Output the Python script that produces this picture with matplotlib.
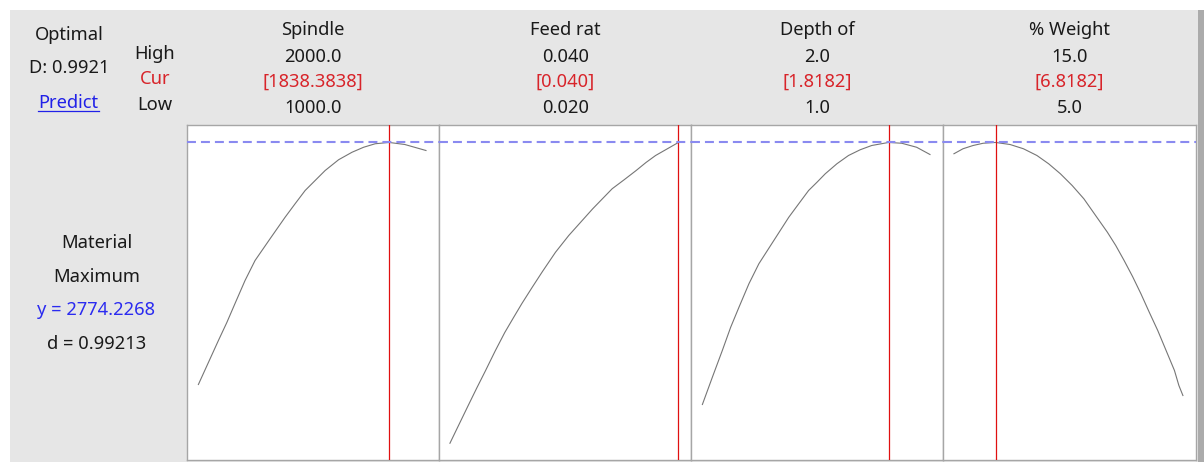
import matplotlib
matplotlib.use("Agg")
import matplotlib.pyplot as plt
from matplotlib.patches import Rectangle
from matplotlib.lines import Line2D

plt.rcParams['font.family'] = ['Noto Sans', 'DejaVu Sans']

# ---------------- data ----------------
factor_names = ["Spindle", "Feed rat", "Depth of", "% Weight"]
factor_high = [2000.0, 0.040, 2.0, 15.0]
factor_low = [1000.0, 0.020, 1.0, 5.0]
factor_cur = [1838.3838, 0.040, 1.8182, 6.8182]
high_labels = ["2000.0", "0.040", "2.0", "15.0"]
low_labels = ["1000.0", "0.020", "1.0", "5.0"]
cur_labels = ["[1838.3838]", "[0.040]", "[1.8182]", "[6.8182]"]

spindle_x = [1000, 1044, 1088, 1125, 1161, 1205, 1249, 1315, 1381, 1425, 1469, 1513,
             1557, 1616, 1675, 1726, 1777, 1838.3838, 1907, 2000]
spindle_y = [1806, 1894, 1982, 2054, 2130, 2222, 2302, 2389, 2475, 2529, 2582, 2622,
             2662, 2705, 2735, 2755, 2769, 2774.2, 2766, 2742]

feed_x = [0.0200, 0.02073, 0.0216, 0.02235, 0.0231, 0.02396, 0.0248, 0.02557, 0.0263,
          0.02719, 0.0281, 0.02924, 0.0304, 0.03144, 0.0325, 0.03335, 0.0342, 0.03525,
          0.0363, 0.03716, 0.0380, 0.03892, 0.0400]
feed_y = [1571, 1640, 1722, 1792, 1860, 1940, 2014, 2074, 2130, 2194, 2258, 2335, 2402,
          2455, 2509, 2549, 2589, 2625, 2662, 2694, 2722, 2746, 2774.2]

depth_x = [1.0, 1.0438, 1.0876, 1.1243, 1.1607, 1.2045, 1.2482, 1.3139, 1.3796, 1.4234,
           1.4667, 1.5035, 1.540, 1.5911, 1.642, 1.6935, 1.744, 1.8182, 1.876, 1.9413, 2.0]
depth_y = [1726, 1835, 1942, 2035, 2115, 2209, 2289, 2382, 2475, 2529, 2582, 2615, 2649,
           2689, 2722, 2745, 2762, 2774.2, 2771, 2755, 2726]

weight_x = [5.0, 5.396, 5.836, 6.275, 6.8182, 7.449, 8.034, 8.624, 9.134, 9.648, 10.163,
            10.673, 11.187, 11.702, 12.067, 12.432, 12.801, 13.166, 13.531, 13.901,
            14.266, 14.631, 14.824, 15.0]
weight_y = [2729, 2749, 2762, 2771, 2774.2, 2766, 2749, 2722, 2689, 2649, 2602, 2549,
            2482, 2415, 2362, 2302, 2238, 2169, 2095, 2022, 1942, 1862, 1802, 1762]

curves_x = [spindle_x, feed_x, depth_x, weight_x]
curves_y = [spindle_y, feed_y, depth_y, weight_y]

y_optimal = 2774.2268
d_value = 0.99213
D_composite = 0.9921
response_name = "Material"
goal = "Maximum"
y_range = (1506, 2846)

# ---------------- layout ----------------
W, H = 1204, 462
fig = plt.figure(figsize=(W / 100, H / 100), dpi=100)
fig.patch.set_facecolor("white")

def fx(px):
    return px / W

def fy(py):
    return 1 - py / H

bg = "#e6e6e6"
fig.patches.append(Rectangle((fx(10), 0), fx(1198) - fx(10), fy(10), transform=fig.transFigure,
                             facecolor=bg, edgecolor="none", zorder=-10))
fig.patches.append(Rectangle((fx(1198), 0), fx(1204) - fx(1198), fy(10), transform=fig.transFigure,
                             facecolor="#ababab", edgecolor="none", zorder=-10))

panel_edges = [187, 438.5, 691, 942.5, 1195.5]
box_top, box_bot = 124.5, 459.5
fs = 13.2
txt = "#1a1a1a"
red = "#d8242a"
blue = "#2b2bf0"

for i in range(4):
    x0, x1 = panel_edges[i], panel_edges[i + 1]
    ax = fig.add_axes([fx(x0), fy(box_bot), fx(x1) - fx(x0), fy(box_top) - fy(box_bot)])
    ax.set_zorder(5)
    ax.set_facecolor("white")
    lo, hi = factor_low[i], factor_high[i]
    rng = hi - lo
    ax.set_xlim(lo - 0.05 * rng, hi + 0.055 * rng)
    ax.set_ylim(*y_range)
    ax.plot(curves_x[i], curves_y[i], color="#767676", lw=0.8, zorder=2)
    ax.axvline(factor_cur[i], color="#e01010", lw=0.9, zorder=3)
    ax.axhline(y_optimal, color="#8a8af0", lw=1.5, dashes=(4.3, 2.4), zorder=4)
    ax.set_xticks([])
    ax.set_yticks([])
    for s in ax.spines.values():
        s.set_color("#a6a6a6")
        s.set_linewidth(1.0)
    cx = (x0 + x1) / 2 + 0.5
    fig.text(fx(cx), fy(35), factor_names[i], ha="center", va="baseline", fontsize=fs, color=txt)
    fig.text(fx(cx), fy(62.5), high_labels[i], ha="center", va="baseline", fontsize=fs, color=txt)
    fig.text(fx(cx), fy(87), cur_labels[i], ha="center", va="baseline", fontsize=fs, color=red)
    fig.text(fx(cx), fy(113), low_labels[i], ha="center", va="baseline", fontsize=fs, color=txt)

# left header texts
fig.text(fx(69), fy(40.5), "Optimal", ha="center", va="baseline", fontsize=fs, color=txt)
fig.text(fx(69), fy(73), f"D: {D_composite:.4f}", ha="center", va="baseline", fontsize=fs, color=txt)
pred = fig.text(fx(68.5), fy(108), "Predict", ha="center", va="baseline", fontsize=fs, color="#2020e8")
fig.text(fx(155), fy(59), "High", ha="center", va="baseline", fontsize=fs, color=txt)
fig.text(fx(155), fy(84.5), "Cur", ha="center", va="baseline", fontsize=fs, color=red)
fig.text(fx(155), fy(110), "Low", ha="center", va="baseline", fontsize=fs, color=txt)

fig.text(fx(97), fy(248), response_name, ha="center", va="baseline", fontsize=fs, color=txt)
fig.text(fx(97), fy(282.5), goal, ha="center", va="baseline", fontsize=fs, color=txt)
fig.text(fx(96), fy(315), f"y = {y_optimal:.4f}", ha="center", va="baseline", fontsize=fs, color=blue)
fig.text(fx(97), fy(349), f"d = {d_value:.5f}", ha="center", va="baseline", fontsize=fs, color=txt)

# underline for Predict
fig.canvas.draw()
bb = pred.get_window_extent(renderer=fig.canvas.get_renderer())
uy = fy(110.5)
fig.lines.append(Line2D([bb.x0 / W, bb.x1 / W], [uy, uy], transform=fig.transFigure,
                        color="#2020e8", lw=0.9))

fig.savefig("out.png", dpi=100, facecolor=fig.get_facecolor())
